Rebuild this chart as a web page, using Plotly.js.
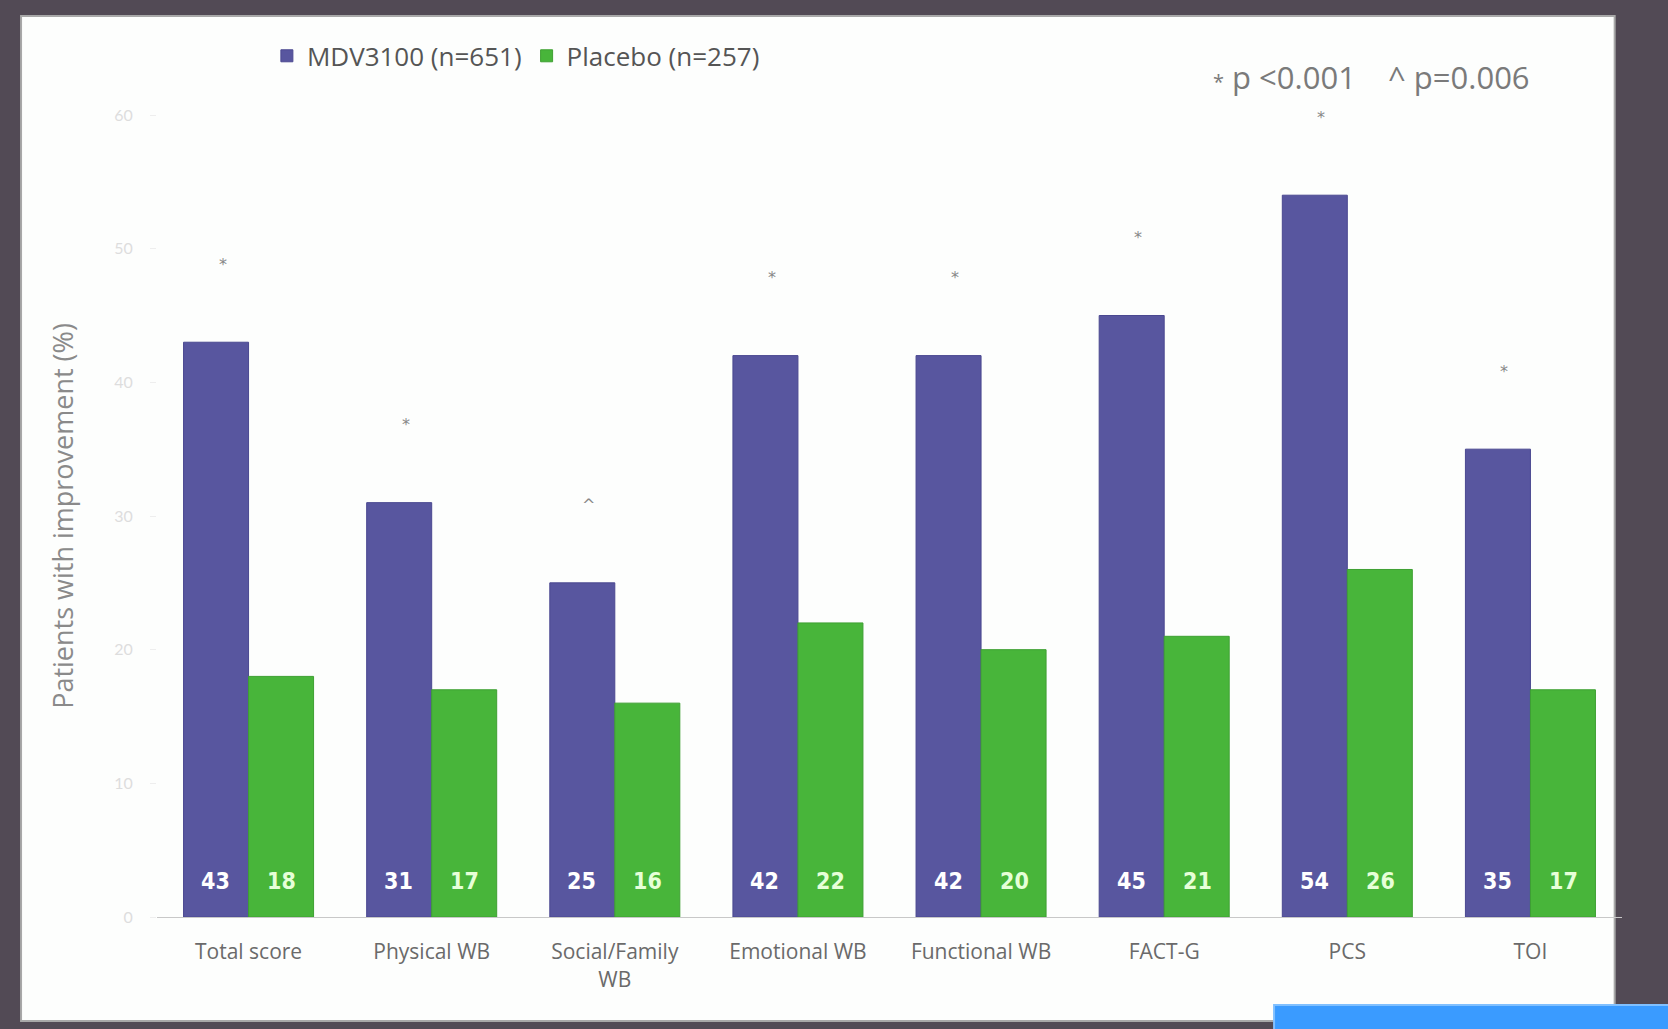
<!DOCTYPE html>
<html>
<head>
<meta charset="utf-8">
<script src="https://cdn.plot.ly/plotly-3.0.1.min.js"></script>
<style>html,body{margin:0;padding:0;background:#524a55;}#chart{width:1668px;height:1029px;}</style>
</head>
<body>
<div id="chart"></div>
<script>
const categories = ["Total score", "Physical WB", "Social/Family<br>WB", "Emotional WB", "Functional WB", "FACT-G", "PCS", "TOI"];
const mdv3100 = [43, 31, 25, 42, 42, 45, 54, 35];
const placebo = [18, 17, 16, 22, 20, 21, 26, 17];
const significance = ["*", "*", "^", "*", "*", "*", "*", "*"];
const yTicks = [0, 10, 20, 30, 40, 50, 60];

const blue = "#58569f";
const green = "#48b53a";

const traces = [
  {type: "bar", name: "MDV3100 (n=651)", x: categories, y: mdv3100,
   marker: {color: blue, line: {color: "#4a4890", width: 1}}, hoverinfo: "y"},
  {type: "bar", name: "Placebo (n=257)", x: categories, y: placebo,
   marker: {color: green, line: {color: "#3ea032", width: 1}}, hoverinfo: "y"}
];

const valFont = (col) => ({family: "DejaVu Sans Condensed, DejaVu Sans, sans-serif", size: 23, color: col, weight: 700, stretch: "condensed"});
const annotations = [];
categories.forEach((c, i) => {
  annotations.push({x: c, y: 0, xref: "x", yref: "y", text: "<b>" + mdv3100[i] + "</b>",
    showarrow: false, xshift: -33, yshift: 36, font: valFont("#ffffff")});
  annotations.push({x: c, y: 0, xref: "x", yref: "y", text: "<b>" + placebo[i] + "</b>",
    showarrow: false, xshift: 33, yshift: 36, font: valFont("#e6ffd8")});
  annotations.push({x: c, y: mdv3100[i], xref: "x", yref: "y", text: significance[i],
    showarrow: false, xshift: -26, yshift: 78,
    font: {family: "DejaVu Sans, sans-serif", size: 16, color: "#888888"}});
});
annotations.push({x: 0.829, y: 1.047, xref: "paper", yref: "paper", xanchor: "center", yanchor: "middle",
  text: "<span style='font-size:20px'>*</span> p <0.001    ^ p=0.006", showarrow: false,
  font: {family: "Open Sans, Lato, sans-serif", size: 31, color: "#7a7a7a"}});

const layout = {
  width: 1668, height: 1029,
  paper_bgcolor: "#524a55",
  plot_bgcolor: "rgba(0,0,0,0)",
  margin: {l: 157, r: 46, t: 115, b: 112},
  barmode: "group",
  bargap: 0.29,
  bargroupgap: 0,
  showlegend: true,
  legend: {orientation: "h", x: 0.075, y: 1.103, xanchor: "left", yanchor: "top",
    font: {family: "Open Sans, Lato, sans-serif", size: 26, color: "#555555"},
    itemwidth: 30, tracegroupgap: 0, bgcolor: "rgba(0,0,0,0)"},
  xaxis: {
    tickfont: {family: "Open Sans, Lato, sans-serif", size: 21, color: "#6a6a6a"},
    showline: true, linecolor: "#c8c8c8", linewidth: 1,
    ticks: "", showgrid: false, ticklabelstandoff: 16
  },
  yaxis: {
    range: [0, 60], tickvals: yTicks, ticktext: yTicks.map(String),
    tickfont: {family: "Lato, sans-serif", size: 16, color: "#dddddd"},
    ticks: "outside", ticklen: 6, tickcolor: "#eeeeee", ticklabelstandoff: 14,
    showgrid: false, zeroline: false, showline: false,
    title: {text: "Patients with improvement (%)", standoff: 32,
      font: {family: "Open Sans, Lato, sans-serif", size: 27, color: "#8a8a8a"}}
  },
  shapes: [
    {type: "rect", xref: "paper", yref: "paper", x0: -0.0928, x1: 0.995, y0: -0.1297, y1: 1.1234,
     fillcolor: "#fdfefd", line: {color: "#a8a8a8", width: 2}, layer: "below"},
    {type: "rect", xref: "paper", yref: "paper", x0: 0.7625, x1: 1.04, y0: -0.145, y1: -0.1097,
     fillcolor: "#3a9bff", line: {color: "#80c0ff", width: 2}, layer: "above"}
  ],
  annotations: annotations
};

Plotly.newPlot("chart", traces, layout, {displayModeBar: false, staticPlot: true});
</script>
</body>
</html>
